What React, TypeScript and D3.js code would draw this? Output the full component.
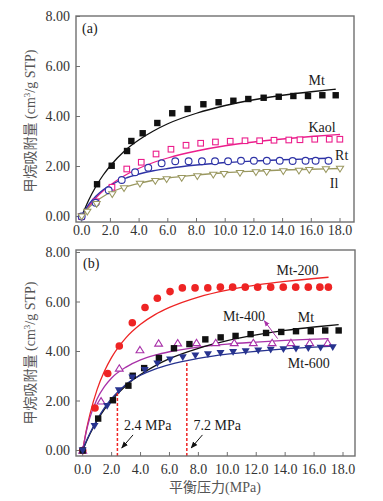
import React from "react";
import * as d3 from "d3";

// ---------- tick labels ----------
const xTicks = [0, 2, 4, 6, 8, 10, 12, 14, 16, 18];
const yTicks = [0, 2, 4, 6, 8];

// ---------- panel (a) measured points ----------
const mtX = [0, 1.07, 2.09, 3.16, 3.46, 4.25, 5.27, 6.31, 7.38, 8.48, 9.54, 10.57, 11.61, 12.68, 13.73, 14.75, 15.77, 16.77, 17.7];
const mtY = [0, 1.29, 2.03, 2.62, 3.02, 3.33, 3.74, 4.13, 4.3, 4.49, 4.57, 4.63, 4.7, 4.75, 4.79, 4.82, 4.82, 4.85, 4.85];
const kaolX = [0, 1.0, 2.11, 3.14, 4.15, 5.18, 6.22, 7.27, 8.29, 9.32, 10.35, 11.38, 12.4, 13.4, 14.43, 15.21, 16.24, 17.25, 17.99];
const kaolY = [0, 0.59, 1.17, 1.9, 2.17, 2.5, 2.69, 2.85, 2.93, 2.98, 3.01, 3.03, 3.03, 3.05, 3.06, 3.07, 3.09, 3.09, 3.09];
const rtX = [0, 0.97, 1.88, 2.79, 3.72, 4.64, 5.57, 6.52, 7.45, 8.38, 9.29, 10.2, 11.1, 12.0, 12.9, 13.8, 14.7, 15.6, 16.3, 17.2];
const rtY = [0, 0.55, 1.05, 1.46, 1.77, 1.95, 2.13, 2.21, 2.21, 2.21, 2.21, 2.21, 2.23, 2.23, 2.23, 2.23, 2.22, 2.23, 2.23, 2.23];
const ilX = [0, 0.39, 1.04, 2.13, 2.95, 4.06, 5.13, 5.92, 6.97, 8.06, 9.17, 9.92, 11.03, 12.14, 12.89, 14.05, 15.14, 15.86, 17.02, 18.0];
const ilY = [0, 0.19, 0.5, 0.89, 1.13, 1.31, 1.42, 1.49, 1.54, 1.61, 1.67, 1.7, 1.74, 1.77, 1.78, 1.81, 1.83, 1.86, 1.89, 1.91];

// ---------- panel (a) fitted curves ----------
const mtFitX = [0, 0.25, 0.5, 1, 1.5, 2, 3, 4, 5, 6, 8, 10, 12, 14, 16, 17.7];
const mtFitY = [0, 0.35, 0.67, 1.21, 1.66, 2.03, 2.63, 3.07, 3.42, 3.71, 4.13, 4.44, 4.67, 4.85, 4.99, 5.09];
const kaolFitX = [0, 0.25, 0.5, 1, 1.5, 2, 3, 4, 5, 6, 8, 10, 12, 14, 16, 18];
const kaolFitY = [0, 0.22, 0.41, 0.75, 1.03, 1.26, 1.64, 1.93, 2.16, 2.34, 2.62, 2.83, 2.98, 3.1, 3.2, 3.28];
const rtFitX = [0, 0.25, 0.5, 1, 1.5, 2, 3, 4, 5, 6, 8, 10, 12, 14, 16, 17.2];
const rtFitY = [0, 0.27, 0.49, 0.82, 1.07, 1.25, 1.52, 1.7, 1.83, 1.92, 2.06, 2.16, 2.22, 2.27, 2.31, 2.33];
const ilFitX = [0, 0.25, 0.5, 1, 1.5, 2, 3, 4, 5, 6, 8, 10, 12, 14, 16, 18];
const ilFitY = [0, 0.19, 0.36, 0.61, 0.8, 0.96, 1.18, 1.33, 1.45, 1.54, 1.66, 1.75, 1.81, 1.86, 1.89, 1.92];

// ---------- panel (b) measured points ----------
const mt200X = [0, 0.85, 1.73, 2.53, 3.43, 4.31, 5.16, 6.04, 6.89, 7.77, 8.65, 9.52, 10.37, 11.24, 12.1, 13.0, 13.87, 14.73, 15.6, 16.4, 16.99];
const mt200Y = [0, 1.72, 3.11, 4.22, 5.16, 5.78, 6.15, 6.42, 6.57, 6.57, 6.57, 6.6, 6.6, 6.6, 6.6, 6.6, 6.6, 6.6, 6.6, 6.6, 6.6];
const mt400X = [0, 1.27, 2.53, 3.96, 5.25, 6.57, 7.87, 9.2, 10.48, 11.8, 13.1, 14.4, 15.7, 16.94];
const mt400Y = [0, 1.99, 3.32, 4.06, 4.33, 4.34, 4.35, 4.35, 4.35, 4.35, 4.35, 4.35, 4.35, 4.35];
const mt600X = [0, 0.82, 1.69, 2.5, 3.43, 4.29, 5.16, 6.04, 6.92, 7.79, 8.66, 9.53, 10.4, 11.27, 12.14, 13.0, 13.88, 14.75, 15.6, 16.45, 17.29];
const mt600Y = [0, 0.99, 1.8, 2.43, 2.95, 3.25, 3.52, 3.68, 3.77, 3.84, 3.89, 3.94, 3.98, 4.01, 4.04, 4.07, 4.09, 4.11, 4.13, 4.15, 4.17];

// ---------- panel (b) fitted curves ----------
const mt200FitX = [0, 0.25, 0.5, 1, 1.5, 2, 3, 4, 5, 6, 8, 10, 12, 14, 16, 17];
const mt200FitY = [0, 0.81, 1.46, 2.47, 3.2, 3.76, 4.56, 5.1, 5.49, 5.78, 6.2, 6.48, 6.68, 6.83, 6.95, 7.0];
const mt400FitX = [0, 0.25, 0.5, 1, 1.5, 2, 3, 4, 5, 6, 8, 10, 12, 14, 16, 17];
const mt400FitY = [0, 0.77, 1.33, 2.09, 2.58, 2.93, 3.37, 3.66, 3.85, 3.99, 4.18, 4.3, 4.38, 4.45, 4.5, 4.52];
const mt600FitX = [0, 0.25, 0.5, 1, 1.5, 2, 3, 4, 5, 6, 8, 10, 12, 14, 16, 17.4];
const mt600FitY = [0, 0.38, 0.7, 1.25, 1.72, 2.1, 2.68, 3.04, 3.29, 3.47, 3.72, 3.89, 4.01, 4.11, 4.18, 4.22];

// ---------- annotations (data units) ----------
const markPressures = [2.4, 7.2];
const markUptakes = [2.42, 3.63];
const markLabels = ["2.4 MPa", "7.2 MPa"];

const W = 383;
const H = 501;
const FONT = "'Liberation Serif', 'Times New Roman', 'Noto Sans CJK SC', serif";

const C = {
  mt: "#111111",
  kaol: "#ec1e8c",
  rt: "#2e33a6",
  il: "#9a9860",
  mt200: "#ee2424",
  mt400: "#a831a8",
  mt600: "#27338f",
  frame: "#707070",
  tick: "#333333",
  title: "#555555",
};

type Marker = "sqFill" | "sqOpen" | "circOpen" | "triDownOpen" | "circFill" | "triUpOpen" | "triDownFill";

function MarkerShape({ kind, x, y, color }: { kind: Marker; x: number; y: number; color: string }) {
  switch (kind) {
    case "sqFill":
      return <rect x={x - 3.2} y={y - 3.2} width={6.4} height={6.4} fill={color} />;
    case "sqOpen":
      return <rect x={x - 2.8} y={y - 2.8} width={5.6} height={5.6} fill="white" stroke={color} strokeWidth={1.1} />;
    case "circOpen":
      return <circle cx={x} cy={y} r={3.4} fill="white" stroke={color} strokeWidth={1.1} />;
    case "circFill":
      return <circle cx={x} cy={y} r={3.8} fill={color} />;
    case "triDownOpen":
      return <path d={`M${x},${y + 3.3} L${x + 3.6},${y - 2.6} L${x - 3.6},${y - 2.6} Z`} fill="white" stroke={color} strokeWidth={1.05} />;
    case "triUpOpen":
      return <path d={`M${x},${y - 3.6} L${x + 3.9},${y + 2.8} L${x - 3.9},${y + 2.8} Z`} fill="white" stroke={color} strokeWidth={1.1} />;
    case "triDownFill":
      return <path d={`M${x},${y + 3.8} L${x + 4},${y - 3} L${x - 4},${y - 3} Z`} fill={color} />;
  }
  return null;
}

interface Series {
  px: number[];
  py: number[];
  fx: number[];
  fy: number[];
  color: string;
  marker: Marker;
}

interface PanelProps {
  left: number;
  right: number;
  top: number;
  bottom: number;
  y0: number; // pixel for value 0
  y8: number; // pixel for value 8
  x0: number; // pixel for 0
  x18: number; // pixel for 18
  series: Series[];
  tickLabelBaseline: number;
  children?: (x: d3.ScaleLinear<number, number>, y: d3.ScaleLinear<number, number>) => React.ReactNode;
}

function Panel({ left, right, top, bottom, y0, y8, x0, x18, series, tickLabelBaseline, children }: PanelProps) {
  const x = d3.scaleLinear().domain([0, 18]).range([x0, x18]);
  const y = d3.scaleLinear().domain([0, 8]).range([y0, y8]);
  const line = (xs: number[], ys: number[]) =>
    d3.line<number>().x((_, i) => x(xs[i])).y((_, i) => y(ys[i])).curve(d3.curveMonotoneX)(xs) || "";
  return (
    <g>
      {/* ticks */}
      {xTicks.map((t) => (
        <g key={"xt" + t}>
          <line x1={x(t)} x2={x(t)} y1={bottom} y2={bottom - 4} stroke={C.frame} strokeWidth={1} />
          <text x={x(t)} y={tickLabelBaseline} textAnchor="middle" fontSize={14} fill={C.tick} fontFamily={FONT}>
            {t.toFixed(1)}
          </text>
        </g>
      ))}
      {yTicks.map((t) => (
        <g key={"yt" + t}>
          <line x1={left} x2={left + 4} y1={y(t)} y2={y(t)} stroke={C.frame} strokeWidth={1} />
          <text x={70} y={y(t) + 4.8} textAnchor="end" fontSize={14} fill={C.tick} fontFamily={FONT}>
            {t.toFixed(2)}
          </text>
        </g>
      ))}
      {/* fitted curves */}
      {series.map((s, i) => (
        <path key={"f" + i} d={line(s.fx, s.fy)} fill="none" stroke={s.color} strokeWidth={1.3} />
      ))}
      {children ? children(x, y) : null}
      {/* points */}
      {series.map((s, i) => (
        <g key={"p" + i}>
          {s.px.map((v, j) => (
            <MarkerShape key={j} kind={s.marker} x={x(v)} y={y(s.py[j])} color={s.color} />
          ))}
        </g>
      ))}
      {/* frame */}
      <rect x={left} y={top} width={right - left} height={bottom - top} fill="none" stroke={C.frame} strokeWidth={1.4} />
    </g>
  );
}

function YTitle({ cx, cy }: { cx: number; cy: number }) {
  return (
    <text
      transform={`translate(${cx},${cy}) rotate(-90)`}
      textAnchor="middle"
      fontSize={14}
      fill={C.title}
      fontFamily={FONT}
    >
      甲烷吸附量 (cm
      <tspan fontSize={9} dy={-5}>3</tspan>
      <tspan dy={5}>/g STP)</tspan>
    </text>
  );
}

export default function App() {
  const seriesA: Series[] = [
    { px: mtX, py: mtY, fx: mtFitX, fy: mtFitY, color: C.mt, marker: "sqFill" },
    { px: kaolX, py: kaolY, fx: kaolFitX, fy: kaolFitY, color: C.kaol, marker: "sqOpen" },
    { px: rtX, py: rtY, fx: rtFitX, fy: rtFitY, color: C.rt, marker: "circOpen" },
    { px: ilX, py: ilY, fx: ilFitX, fy: ilFitY, color: C.il, marker: "triDownOpen" },
  ];
  const seriesB: Series[] = [
    { px: mt200X, py: mt200Y, fx: mt200FitX, fy: mt200FitY, color: C.mt200, marker: "circFill" },
    { px: mt400X, py: mt400Y, fx: mt400FitX, fy: mt400FitY, color: C.mt400, marker: "triUpOpen" },
    { px: mtX, py: mtY, fx: mtFitX, fy: mtFitY, color: C.mt, marker: "sqFill" },
    { px: mt600X, py: mt600Y, fx: mt600FitX, fy: mt600FitY, color: C.mt600, marker: "triDownFill" },
  ];
  const lbl = { fontSize: 14, fill: "#1a1a1a", fontFamily: FONT } as const;
  return (
    <svg width={W} height={H} style={{ position: "absolute", left: 0, top: 0, background: "white" }}>
      <defs>
        <marker id="ahBlack" viewBox="0 0 10 10" refX="9" refY="5" markerWidth="7" markerHeight="7" orient="auto">
          <path d="M0,1 L10,5 L0,9 Z" fill="#111" />
        </marker>
        <marker id="ahPurple" viewBox="0 0 10 10" refX="9" refY="5" markerWidth="6" markerHeight="6" orient="auto">
          <path d="M0,1 L10,5 L0,9 Z" fill={C.mt400} />
        </marker>
      </defs>
      <rect width={W} height={H} fill="white" />

      <Panel left={76} right={354} top={16} bottom={222} y0={216.5} y8={16.5} x0={81.7} x18={340} series={seriesA} tickLabelBaseline={235} />
      <text x={82} y={33} {...lbl}>(a)</text>
      <text x={316.7} y={85} textAnchor="middle" {...lbl}>Mt</text>
      <text x={322} y={131.5} textAnchor="middle" {...lbl}>Kaol</text>
      <text x={341.7} y={160} textAnchor="middle" {...lbl}>Rt</text>
      <text x={334} y={188} textAnchor="middle" {...lbl}>Il</text>
      <YTitle cx={35} cy={121} />

      <Panel
        left={76}
        right={355}
        top={250}
        bottom={456}
        y0={450.5}
        y8={252.5}
        x0={82.7}
        x18={343}
        series={seriesB}
        tickLabelBaseline={474}
      >
        {(x, y) => (
          <g>
            {markPressures.map((p, i) => (
              <line
                key={"d" + i}
                x1={x(p)}
                x2={x(p)}
                y1={456}
                y2={y(markUptakes[i])}
                stroke={C.mt200}
                strokeWidth={1.5}
                strokeDasharray="3,2"
              />
            ))}
            {markPressures.map((p, i) => (
              <g key={"a" + i}>
                <line
                  x1={x(p + 1.08)}
                  y1={y(0.63)}
                  x2={x(p + 0.3)}
                  y2={y(0.1)}
                  stroke="#111"
                  strokeWidth={1}
                  markerEnd="url(#ahBlack)"
                />
                <text x={x(p + 2.1)} y={430} textAnchor="middle" {...lbl}>
                  {markLabels[i]}
                </text>
              </g>
            ))}
            <line
              x1={x(13.48)}
              y1={y(4.52)}
              x2={x(12.56)}
              y2={y(5.24)}
              stroke={C.mt400}
              strokeWidth={1}
              markerEnd="url(#ahPurple)"
            />
          </g>
        )}
      </Panel>
      <text x={83} y={268} {...lbl}>(b)</text>
      <text x={297.5} y={275} textAnchor="middle" {...lbl}>Mt-200</text>
      <text x={244} y={321} textAnchor="middle" {...lbl}>Mt-400</text>
      <text x={306} y={321.5} textAnchor="middle" {...lbl}>Mt</text>
      <text x={308.8} y={368} textAnchor="middle" {...lbl}>Mt-600</text>
      <YTitle cx={35} cy={353} />
      <text x={215} y={492} textAnchor="middle" fontSize={14} fill={C.title} fontFamily={FONT}>
        平衡压力(MPa)
      </text>
    </svg>
  );
}
